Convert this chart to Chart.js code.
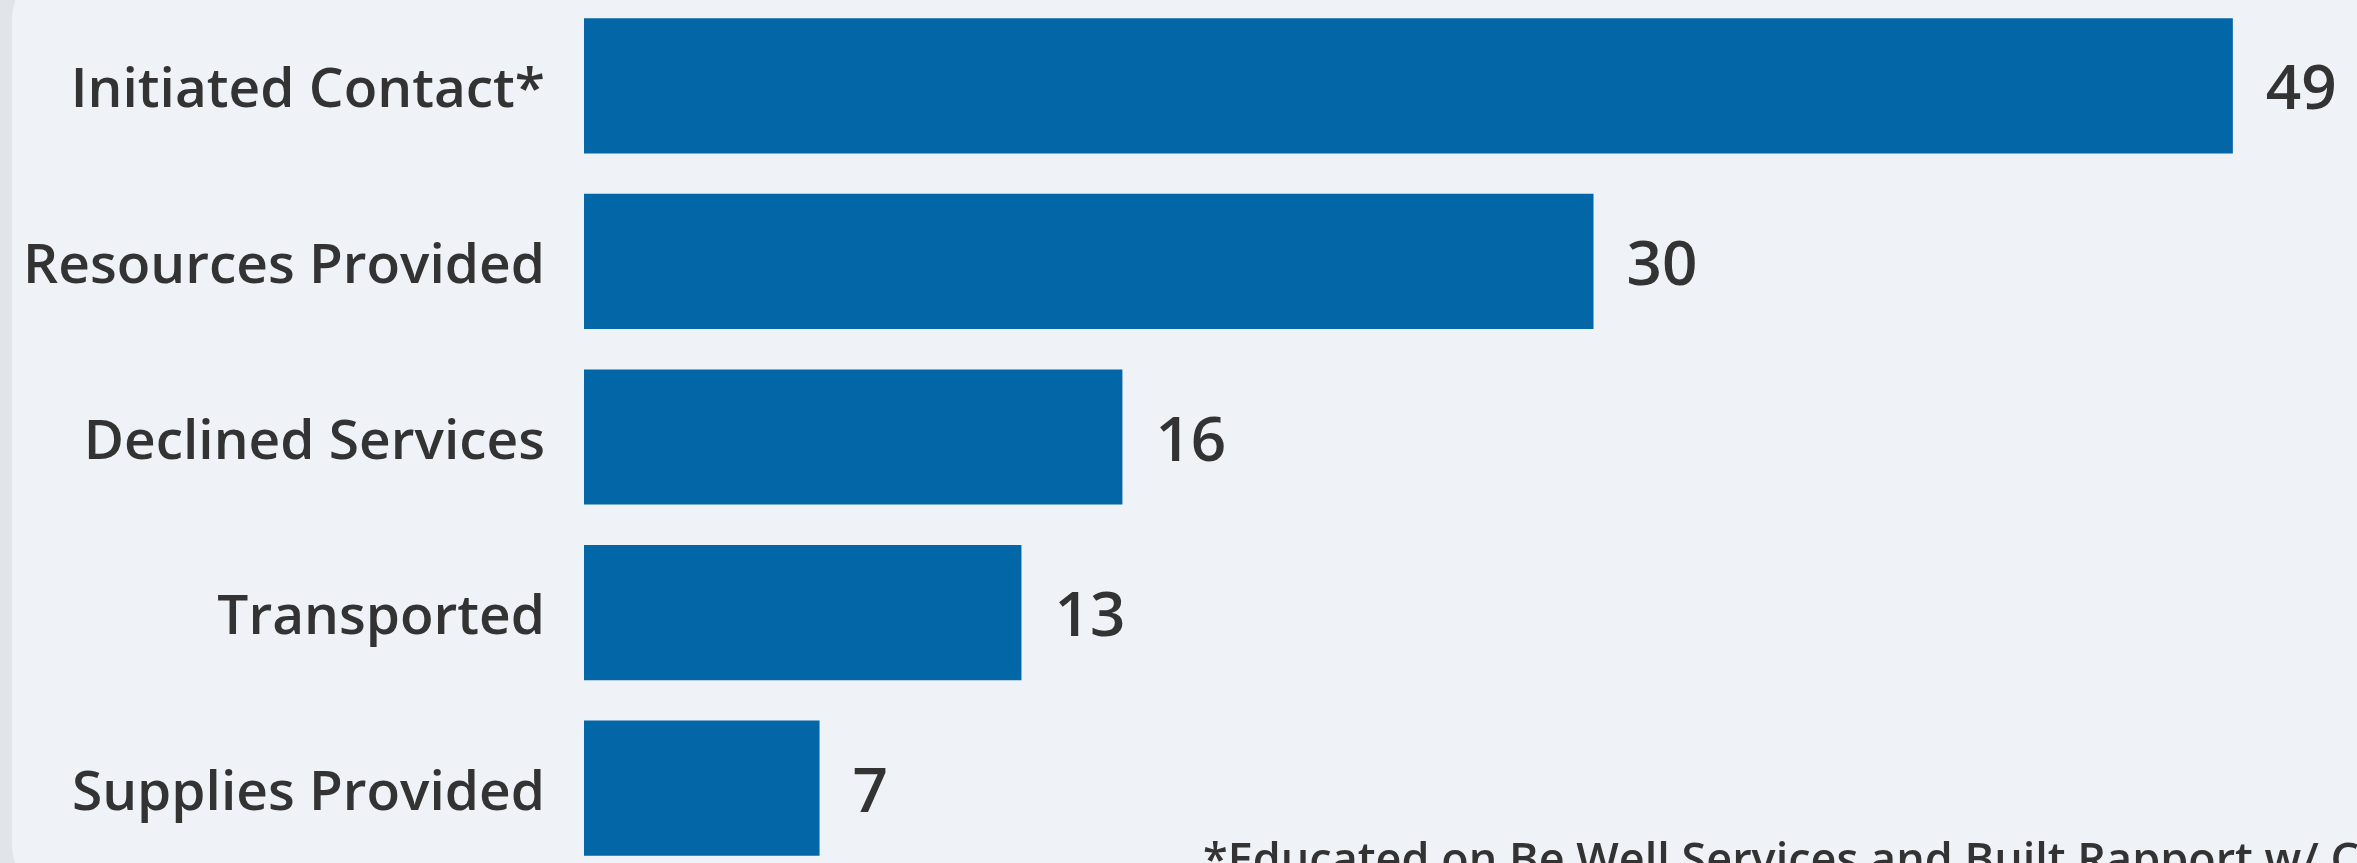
<!DOCTYPE html>
<html lang="en">
<head>
    <meta charset="UTF-8">
    <title>Outreach Outcomes</title>
    <script src="https://cdn.jsdelivr.net/npm/chart.js"></script>
    <style>
        html, body {
            margin: 0;
            padding: 0;
            width: 2357px;
            height: 863px;
            overflow: hidden;
            background-color: #e1e4e8;
        }
        .card {
            position: absolute;
            left: 12px;
            top: -40px;
            width: 2500px;
            height: 944px;
            background-color: #eff3f8;
            border-radius: 60px;
        }
        #outcomeChart {
            position: absolute;
            left: 12px;
            top: -2px;
        }
    </style>
</head>
<body>
    <div class="card"></div>
    <canvas id="outcomeChart" width="2400" height="878"></canvas>

    <script>
        // chart data
        const categories = ['Initiated Contact*', 'Resources Provided', 'Declined Services', 'Transported', 'Supplies Provided'];
        const counts = [49, 30, 16, 13, 7];
        const footnote = '*Educated on Be Well Services and Built Rapport w/ Clients';

        const FONT = "'Open Sans', 'Noto Sans', sans-serif";
        const TEXT_COLOR = '#333333';

        // draws the count to the right of each bar, plus the footnote
        const valueLabels = {
            id: 'valueLabels',
            afterDatasetsDraw(chart) {
                const ctx = chart.ctx;
                const meta = chart.getDatasetMeta(0);
                ctx.save();
                ctx.fillStyle = TEXT_COLOR;
                ctx.font = "600 62px " + FONT;
                ctx.textAlign = 'left';
                ctx.textBaseline = 'middle';
                meta.data.forEach((bar, i) => {
                    ctx.fillText(counts[i], bar.x + 33, bar.y + 6);
                });
                ctx.font = "600 45px " + FONT;
                ctx.textBaseline = 'alphabetic';
                ctx.fillText(footnote, 1191, 877);
                ctx.restore();
            }
        };

        const ctx = document.getElementById('outcomeChart').getContext('2d');
        const outcomeChart = new Chart(ctx, {
            type: 'bar',
            data: {
                labels: categories,
                datasets: [{
                    data: counts,
                    backgroundColor: '#0366a6',
                    barPercentage: 0.77,
                    categoryPercentage: 1
                }]
            },
            options: {
                indexAxis: 'y',
                responsive: false,
                animation: false,
                layout: {
                    padding: { top: 0, bottom: 0, left: 0, right: 145.5 }
                },
                plugins: {
                    legend: { display: false },
                    tooltip: { enabled: false }
                },
                scales: {
                    x: {
                        display: false,
                        min: 0,
                        max: 50
                    },
                    y: {
                        grid: { display: false, drawTicks: false },
                        border: { display: false },
                        ticks: {
                            color: TEXT_COLOR,
                            padding: 39,
                            labelOffset: 6,
                            font: { family: FONT, size: 55, weight: '600' }
                        },
                        afterFit(scale) {
                            // fixed label column, no extra top/bottom room
                            scale.width = 572;
                            scale.paddingTop = 0;
                            scale.paddingBottom = 0;
                        }
                    }
                }
            },
            plugins: [valueLabels]
        });
    </script>
</body>
</html>
